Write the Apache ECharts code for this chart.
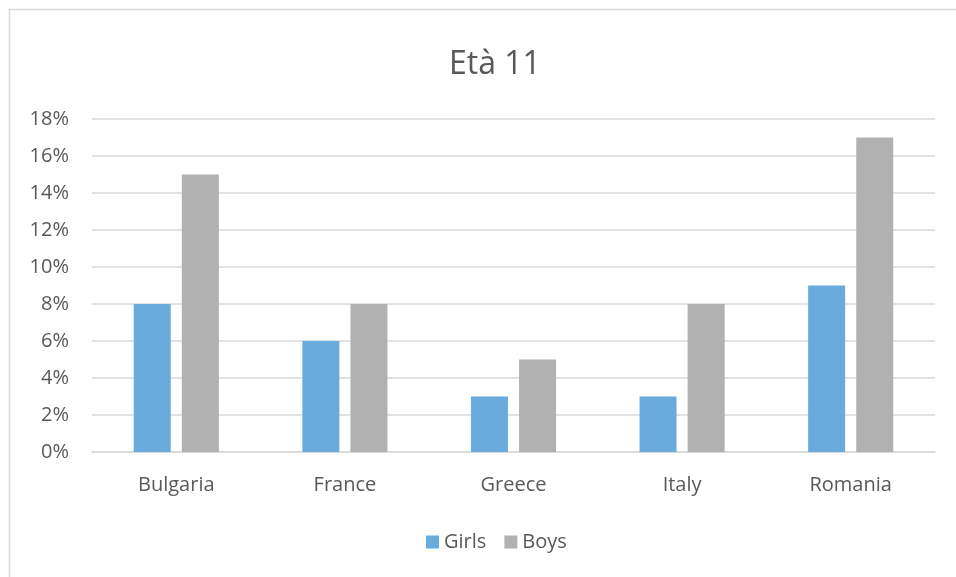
<!DOCTYPE html>
<html><head><meta charset="utf-8">
<script src="https://cdn.jsdelivr.net/npm/echarts@6/dist/echarts.min.js"></script>
<style>html,body{margin:0;padding:0;background:#fff}#c{width:956px;height:577px}</style>
</head><body><div id="c"></div>
<script>
const categories = ['Bulgaria', 'France', 'Greece', 'Italy', 'Romania'];
const girls = [8, 6, 3, 3, 9];
const boys = [15, 8, 5, 8, 17];
const yTicks = [0, 2, 4, 6, 8, 10, 12, 14, 16, 18];

const chart = echarts.init(document.getElementById('c'));
const font = "'Open Sans', 'Liberation Sans', sans-serif";
chart.setOption({
  animation: false,
  backgroundColor: '#fff',
  textStyle: { fontFamily: font },
  graphic: [{
    type: 'rect', shape: { x: 9.5, y: 9.5, width: 1000, height: 1000 },
    style: { fill: 'none', stroke: '#d9d9d9', lineWidth: 1.5 }, silent: true
  }],
  title: {
    text: 'Età 11', left: 444, top: 44,
    textStyle: { fontFamily: font, fontSize: 32, fontWeight: 'normal', color: '#595959' }
  },
  legend: {
    bottom: 20, left: 421, itemWidth: 13, itemHeight: 13, itemGap: 18,
    icon: 'rect',
    textStyle: { fontFamily: font, fontSize: 20, color: '#595959' },
    data: ['Girls', 'Boys']
  },
  grid: { left: 92, right: 21, top: 119, bottom: 125, containLabel: false },
  xAxis: {
    type: 'category', data: categories,
    axisLine: { lineStyle: { color: '#d9d9d9', width: 1.5 } },
    axisTick: { show: false },
    axisLabel: { fontFamily: font, fontSize: 20, color: '#595959', margin: 23 }
  },
  yAxis: {
    type: 'value', min: yTicks[0], max: yTicks[yTicks.length - 1], interval: 2,
    axisLine: { show: false }, axisTick: { show: false },
    splitLine: { lineStyle: { color: '#d9d9d9', width: 1.5 } },
    axisLabel: { fontFamily: font, fontSize: 20, color: '#595959', margin: 23, formatter: v => v + '%' }
  },
  series: [
    { name: 'Girls', type: 'bar', data: girls, barWidth: 37, barGap: '30%', itemStyle: { color: '#6AABDD' } },
    { name: 'Boys', type: 'bar', data: boys, barWidth: 37, itemStyle: { color: '#B1B1B1' } }
  ]
});
</script></body></html>
